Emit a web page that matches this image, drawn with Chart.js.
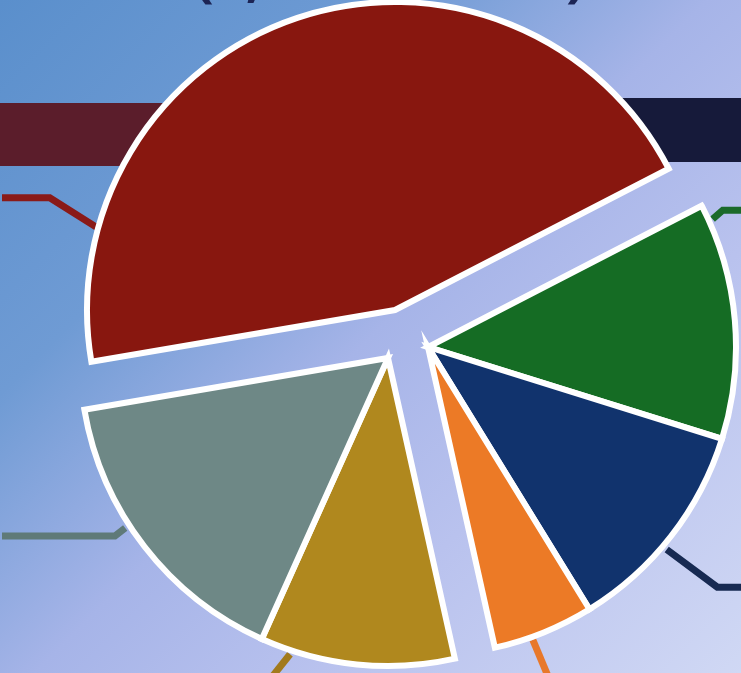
<!DOCTYPE html>
<html>
<head>
<meta charset="utf-8">
<script src="https://cdn.jsdelivr.net/npm/chart.js@4.4.1/dist/chart.umd.min.js"></script>
<style>
  html, body { margin: 0; padding: 0; }
  body {
    width: 741px; height: 673px; overflow: hidden;
    background: linear-gradient(135deg, #5a8fcc 0%, #6f9bd4 28%, #a6b4e8 50%, #b9c2ee 70%, #d0d8f4 100%);
  }
  #wrap { position: relative; width: 741px; height: 673px; }
</style>
</head>
<body>
<div id="wrap"><canvas id="pie" width="741" height="673"></canvas></div>
<script>
// Slice shares (percent), read clockwise starting at the green slice
const categories = ['Green', 'Navy', 'Orange', 'Gold', 'Grey', 'Red'];
const shares = [12.4, 11.4, 5.3, 10.2, 15.6, 45.1];
const sliceColors = ['#156c24', '#11336d', '#ec7a26', '#b0881e', '#6e8886', '#88170f'];
const leaderColors = ['#1b6a2a', '#172a52', '#e8782a', '#a27a1c', '#5f7a78', '#8a1a18'];
const titleText = '($, in millions)';

// which exploded piece each slice belongs to, and how far that piece is pulled out
const sliceGroups = ['right', 'right', 'right', 'left', 'left', 'top'];
const groupShift = { top: [-10, -30], right: [23, 7], left: [-17, 18] };

// leader lines: angle (deg clockwise from 12 o'clock) and radius of start / elbow, then run to edge
const leaders = [
  { i: 0, a1: 65.8, r1: 312, a2: 65.1, r2: 325, run: 'right' },
  { i: 1, a1: 130.3, r1: 313, a2: 129.7, r2: 376, run: 'right' },
  { i: 2, a1: 160.3, r1: 311, a2: 159.9, r2: 360, run: null },
  { i: 3, a1: 198.3, r1: 312, a2: 200.3, r2: 345, run: null },
  { i: 4, a1: 237.1, r1: 313, a2: 236.9, r2: 326, run: 'left' },
  { i: 5, a1: 285.5, r1: 310, a2: 288.0, r2: 363, run: 'left' }
];

function polar(cx, cy, deg, r) {
  const a = deg * Math.PI / 180;
  return [cx + r * Math.sin(a), cy - r * Math.cos(a)];
}

// background banners, title remnants and leader lines, drawn behind the slices
const backdrop = {
  id: 'backdrop',
  beforeDatasetsDraw(chart) {
    const ctx = chart.ctx;
    const w = chart.width;
    ctx.save();
    ctx.fillStyle = '#5b1d2b';
    ctx.fillRect(0, 103, 380, 63);
    ctx.fillStyle = '#161a3a';
    ctx.fillRect(430, 98, w - 430, 64);

    ctx.fillStyle = '#1c2454';
    ctx.font = 'bold 48px "Open Sans"';
    const tw = ctx.measureText(titleText).width;
    const size = 48 * 390 / tw;
    ctx.font = 'bold ' + size + 'px "Open Sans"';
    ctx.textAlign = 'center';
    ctx.textBaseline = 'alphabetic';
    ctx.fillText(titleText, 390, -4);

    const meta = chart.getDatasetMeta(0);
    ctx.lineWidth = 7;
    ctx.lineJoin = 'miter';
    ctx.lineCap = 'butt';
    leaders.forEach(l => {
      const arc = meta.data[l.i];
      const s = groupShift[sliceGroups[l.i]];
      const cx = arc.x + s[0], cy = arc.y + s[1];
      const p1 = polar(cx, cy, l.a1, l.r1);
      const p2 = polar(cx, cy, l.a2, l.r2);
      ctx.strokeStyle = leaderColors[l.i];
      ctx.beginPath();
      ctx.moveTo(p1[0], p1[1]);
      ctx.lineTo(p2[0], p2[1]);
      if (l.run === 'left') ctx.lineTo(2, p2[1]);
      if (l.run === 'right') ctx.lineTo(w, p2[1]);
      ctx.stroke();
    });
    ctx.restore();
  },
  // draw each slice moved with its exploded piece
  beforeDatasetDraw(chart, args) {
    const ctx = chart.ctx;
    args.meta.data.forEach((arc, i) => {
      const s = groupShift[sliceGroups[i]];
      ctx.save();
      ctx.translate(s[0], s[1]);
      arc.draw(ctx, chart.chartArea);
      ctx.restore();
    });
    return false;
  }
};

new Chart(document.getElementById('pie'), {
  type: 'pie',
  data: {
    labels: categories,
    datasets: [{
      data: shares,
      backgroundColor: sliceColors,
      borderColor: '#ffffff',
      borderWidth: 6,
      borderJoinStyle: 'miter',
      clip: false
    }]
  },
  options: {
    responsive: false,
    animation: false,
    rotation: 62.7,
    radius: 308,
    layout: { padding: { left: 69, right: 0, top: 7, bottom: 0 } },
    plugins: {
      legend: { display: false },
      tooltip: { enabled: false }
    },
    events: []
  },
  plugins: [backdrop]
});
</script>
</body>
</html>
